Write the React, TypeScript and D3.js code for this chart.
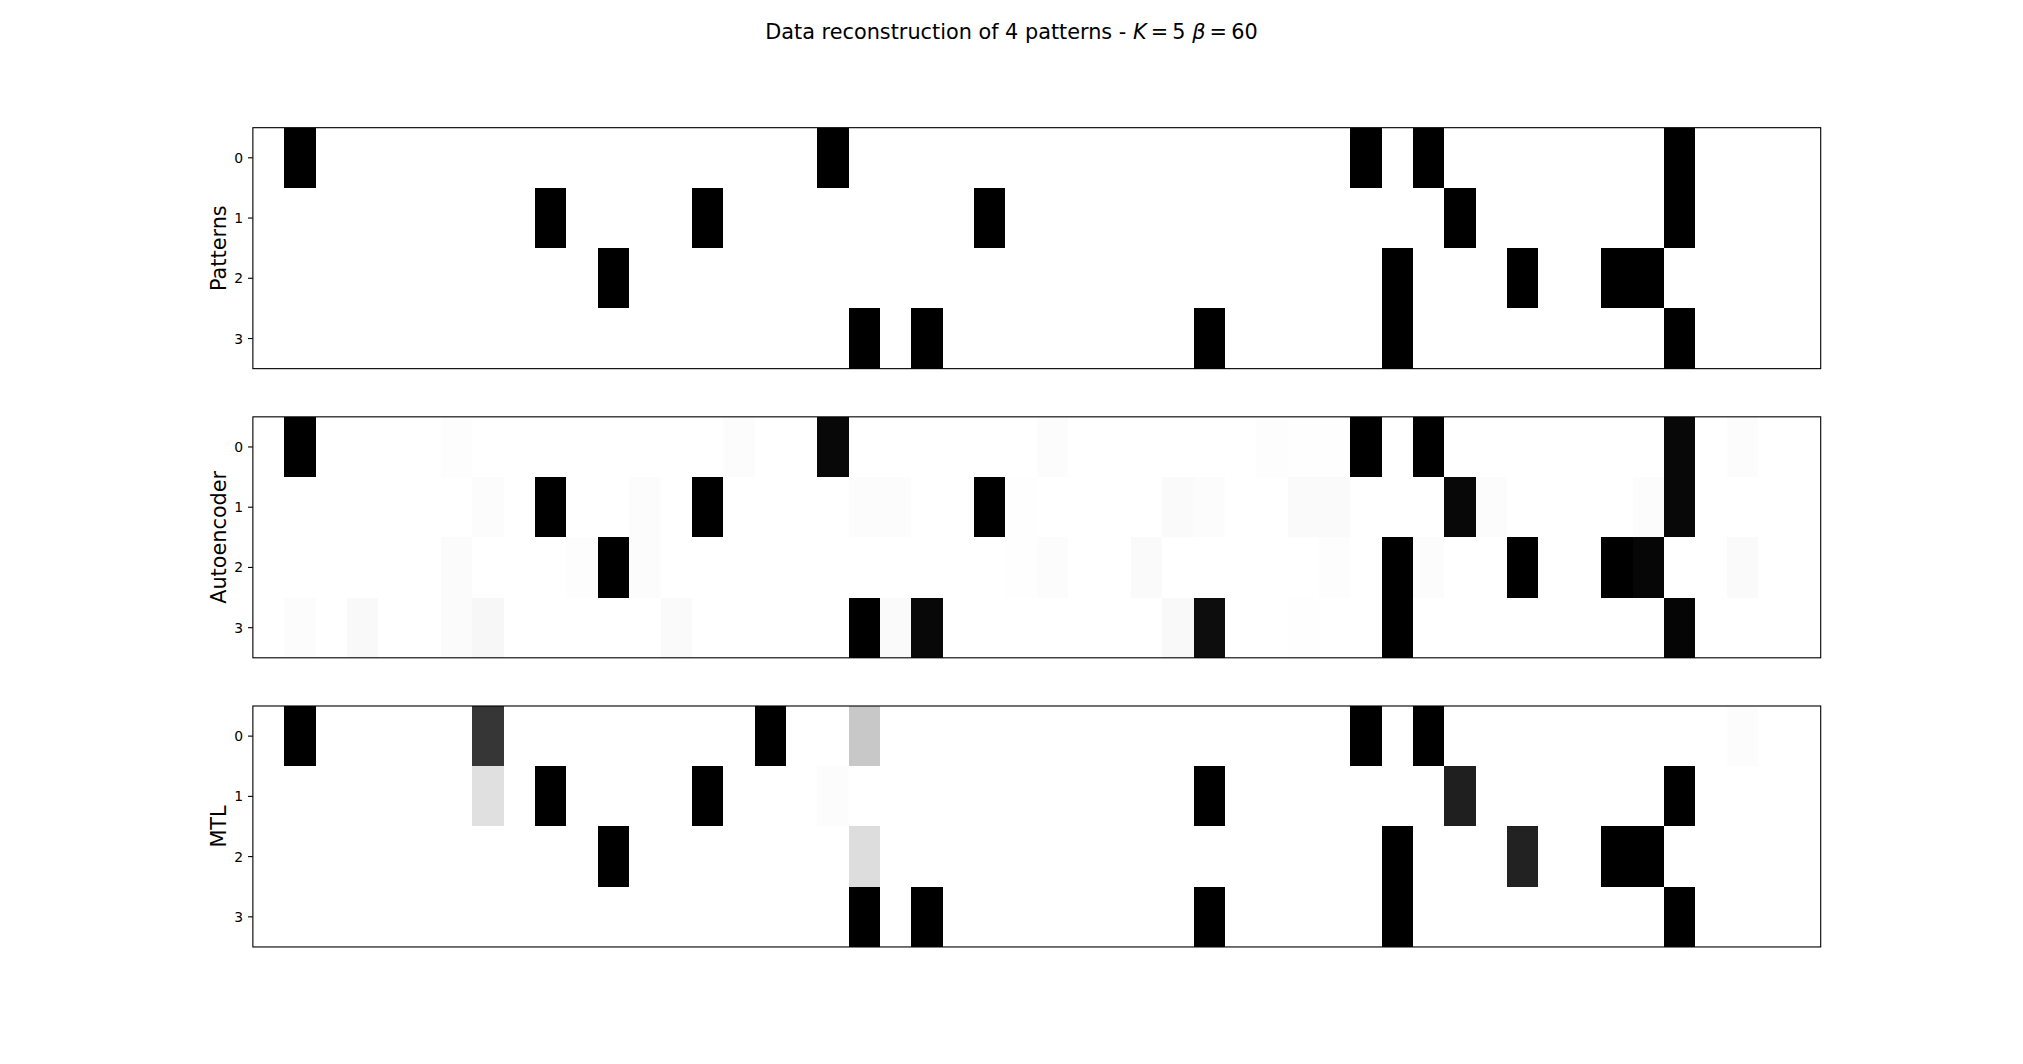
import React from 'react';
import * as d3 from 'd3';

const W = 2023;
const H = 1064;

// 50 units in every pattern, 4 patterns (rows)
const nCols = 50;
const rowTicks = [0, 1, 2, 3];
const panelNames = ['Patterns', 'Autoencoder', 'MTL'];

// active bits of the stored patterns, column index per row
const patternOnes = [
  [1, 18, 35, 37, 45],
  [9, 14, 23, 38, 45],
  [11, 36, 40, 43, 44],
  [19, 21, 30, 36, 45],
];

// autoencoder reconstruction: [row, col, value], everything else is 0
const autoencoderCells = [
  [0, 1, 1.0], [0, 6, 0.008], [0, 15, 0.012], [0, 18, 0.97], [0, 25, 0.012], [0, 32, 0.006],
  [0, 33, 0.004], [0, 34, 0.004], [0, 35, 1.0], [0, 37, 1.0], [0, 45, 0.97], [0, 47, 0.012],
  [1, 7, 0.012], [1, 9, 1.0], [1, 12, 0.012], [1, 14, 1.0], [1, 19, 0.01], [1, 20, 0.01],
  [1, 23, 1.0], [1, 24, 0.005], [1, 29, 0.02], [1, 30, 0.012], [1, 33, 0.02], [1, 34, 0.018],
  [1, 38, 0.97], [1, 39, 0.01], [1, 44, 0.01], [1, 45, 0.97],
  [2, 6, 0.016], [2, 10, 0.006], [2, 11, 1.0], [2, 12, 0.01], [2, 24, 0.005], [2, 25, 0.01],
  [2, 28, 0.02], [2, 34, 0.006], [2, 36, 1.0], [2, 37, 0.01], [2, 40, 1.0], [2, 43, 1.0],
  [2, 44, 0.975], [2, 47, 0.02],
  [3, 1, 0.012], [3, 3, 0.025], [3, 6, 0.016], [3, 7, 0.03], [3, 13, 0.02], [3, 19, 1.0],
  [3, 20, 0.02], [3, 21, 0.97], [3, 29, 0.025], [3, 30, 0.95], [3, 33, 0.005], [3, 36, 1.0],
  [3, 45, 0.98],
];

// MTL reconstruction: [row, col, value]
const mtlCells = [
  [0, 1, 1.0], [0, 7, 0.79], [0, 16, 1.0], [0, 19, 0.215], [0, 35, 1.0], [0, 37, 1.0], [0, 47, 0.01],
  [1, 7, 0.12], [1, 9, 1.0], [1, 14, 1.0], [1, 18, 0.012], [1, 30, 1.0], [1, 38, 0.88], [1, 45, 1.0],
  [2, 11, 1.0], [2, 19, 0.135], [2, 36, 1.0], [2, 40, 0.865], [2, 43, 1.0], [2, 44, 1.0],
  [3, 19, 1.0], [3, 21, 1.0], [3, 30, 1.0], [3, 36, 1.0], [3, 45, 1.0],
];

function toMatrix(cells: number[][]) {
  const m = rowTicks.map(() => new Array(nCols).fill(0));
  cells.forEach(([r, c, v]) => { m[r][c] = v; });
  return m;
}

const matrices = [
  toMatrix(patternOnes.flatMap((cols, r) => cols.map(c => [r, c, 1]))),
  toMatrix(autoencoderCells),
  toMatrix(mtlCells),
];

// figure layout (matplotlib subplot defaults)
const left = 0.125 * W;
const right = 0.9 * W;
const figTop = 0.12 * H;
const figBottom = 0.89 * H;
const axH = (figBottom - figTop) / 3.4;
const gap = axH * 0.2;

const font = "'DejaVu Sans', sans-serif";
const lw = 1.11;
const tickLen = 4.86;

const color = d3.scaleLinear<string>().domain([0, 1]).range(['#ffffff', '#000000']);
const x = d3.scaleLinear().domain([-0.5, nCols - 0.5]).range([left, right]);

function Panel({ data, name, top }: { data: number[][]; name: string; top: number }) {
  const y = d3.scaleLinear().domain([-0.5, rowTicks.length - 0.5]).range([top, top + axH]);
  return (
    <g>
      <rect x={left} y={top} width={right - left} height={axH} fill="#fff" />
      <g shapeRendering="crispEdges">
        {data.map((row, r) =>
          row.map((v, c) =>
            v > 0 ? (
              <rect
                key={`${r}-${c}`}
                x={x(c - 0.5)}
                y={y(r - 0.5)}
                width={x(c + 0.5) - x(c - 0.5)}
                height={y(r + 0.5) - y(r - 0.5)}
                fill={color(v)}
              />
            ) : null
          )
        )}
      </g>
      <rect x={left} y={top} width={right - left} height={axH} fill="none" stroke="#000" strokeWidth={lw} />
      {rowTicks.map(t => (
        <g key={t}>
          <line x1={left - tickLen} x2={left} y1={y(t)} y2={y(t)} stroke="#000" strokeWidth={lw} />
          <text
            x={left - tickLen - 4.86}
            y={y(t)}
            dy="0.36em"
            textAnchor="end"
            fontFamily={font}
            fontSize={13.9}
          >
            {t}
          </text>
        </g>
      ))}
      <text
        transform={`translate(226, ${top + axH / 2}) rotate(-90)`}
        textAnchor="middle"
        fontFamily={font}
        fontSize={20.8}
      >
        {name}
      </text>
    </g>
  );
}

export default function App() {
  return (
    <div style={{ position: 'absolute', left: 0, top: 0, width: W, height: H, background: '#fff' }}>
      <svg width={W} height={H} viewBox={`0 0 ${W} ${H}`}>
        <rect width={W} height={H} fill="#fff" />
        <text x={W / 2} y={39} textAnchor="middle" fontFamily={font} fontSize={20.8}>
          Data reconstruction of 4 patterns -{' '}
          <tspan fontStyle="italic">K</tspan>
          <tspan>{'\u2009=\u20095 '}</tspan>
          <tspan fontStyle="italic">β</tspan>
          <tspan>{'\u2009=\u200960'}</tspan>
        </text>
        {matrices.map((m, i) => (
          <Panel key={panelNames[i]} data={m} name={panelNames[i]} top={figTop + i * (axH + gap)} />
        ))}
      </svg>
    </div>
  );
}
